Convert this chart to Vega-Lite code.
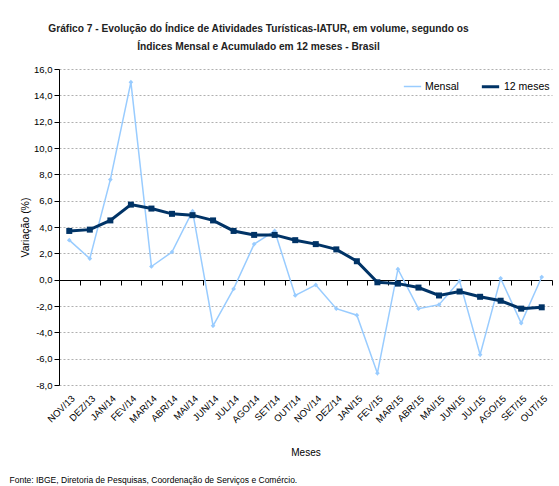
{
  "$schema": "https://vega.github.io/schema/vega-lite/v6.json",
  "padding": {"left": 9, "top": 23, "right": 4, "bottom": 4},
  "background": "white",
  "title": {
    "text": "Fonte: IBGE, Diretoria de Pesquisas, Coordenação de Serviços e Comércio.",
    "orient": "bottom",
    "anchor": "start",
    "frame": "bounds",
    "fontSize": 8.5,
    "fontWeight": "normal",
    "color": "#000000",
    "offset": 18,
    "dx": -11
  },
  "config": {
    "font": "Liberation Sans, Arial, sans-serif",
    "locale": {"number": {"decimal": ",", "thousands": ".", "grouping": [3], "currency": ["R$", ""], "minus": "-"}},
    "view": {"stroke": null},
    "concat": {"spacing": 0},
    "axis": {"labelColor": "#000000", "titleColor": "#000000", "titleFontWeight": "normal"}
  },
  "datasets": {
    "iatur": [
      {"mes": "NOV/13", "serie": "Mensal", "valor": 3.0},
      {"mes": "DEZ/13", "serie": "Mensal", "valor": 1.6},
      {"mes": "JAN/14", "serie": "Mensal", "valor": 7.6},
      {"mes": "FEV/14", "serie": "Mensal", "valor": 15.0},
      {"mes": "MAR/14", "serie": "Mensal", "valor": 1.0},
      {"mes": "ABR/14", "serie": "Mensal", "valor": 2.1},
      {"mes": "MAI/14", "serie": "Mensal", "valor": 5.2},
      {"mes": "JUN/14", "serie": "Mensal", "valor": -3.5},
      {"mes": "JUL/14", "serie": "Mensal", "valor": -0.7},
      {"mes": "AGO/14", "serie": "Mensal", "valor": 2.7},
      {"mes": "SET/14", "serie": "Mensal", "valor": 3.7},
      {"mes": "OUT/14", "serie": "Mensal", "valor": -1.2},
      {"mes": "NOV/14", "serie": "Mensal", "valor": -0.4},
      {"mes": "DEZ/14", "serie": "Mensal", "valor": -2.2},
      {"mes": "JAN/15", "serie": "Mensal", "valor": -2.7},
      {"mes": "FEV/15", "serie": "Mensal", "valor": -7.1},
      {"mes": "MAR/15", "serie": "Mensal", "valor": 0.8},
      {"mes": "ABR/15", "serie": "Mensal", "valor": -2.2},
      {"mes": "MAI/15", "serie": "Mensal", "valor": -1.9},
      {"mes": "JUN/15", "serie": "Mensal", "valor": -0.1},
      {"mes": "JUL/15", "serie": "Mensal", "valor": -5.7},
      {"mes": "AGO/15", "serie": "Mensal", "valor": 0.1},
      {"mes": "SET/15", "serie": "Mensal", "valor": -3.3},
      {"mes": "OUT/15", "serie": "Mensal", "valor": 0.2},
      {"mes": "NOV/13", "serie": "12 meses", "valor": 3.7},
      {"mes": "DEZ/13", "serie": "12 meses", "valor": 3.8},
      {"mes": "JAN/14", "serie": "12 meses", "valor": 4.5},
      {"mes": "FEV/14", "serie": "12 meses", "valor": 5.7},
      {"mes": "MAR/14", "serie": "12 meses", "valor": 5.4},
      {"mes": "ABR/14", "serie": "12 meses", "valor": 5.0},
      {"mes": "MAI/14", "serie": "12 meses", "valor": 4.9},
      {"mes": "JUN/14", "serie": "12 meses", "valor": 4.5},
      {"mes": "JUL/14", "serie": "12 meses", "valor": 3.7},
      {"mes": "AGO/14", "serie": "12 meses", "valor": 3.4},
      {"mes": "SET/14", "serie": "12 meses", "valor": 3.4},
      {"mes": "OUT/14", "serie": "12 meses", "valor": 3.0},
      {"mes": "NOV/14", "serie": "12 meses", "valor": 2.7},
      {"mes": "DEZ/14", "serie": "12 meses", "valor": 2.3},
      {"mes": "JAN/15", "serie": "12 meses", "valor": 1.4},
      {"mes": "FEV/15", "serie": "12 meses", "valor": -0.2},
      {"mes": "MAR/15", "serie": "12 meses", "valor": -0.3},
      {"mes": "ABR/15", "serie": "12 meses", "valor": -0.6},
      {"mes": "MAI/15", "serie": "12 meses", "valor": -1.2},
      {"mes": "JUN/15", "serie": "12 meses", "valor": -0.9},
      {"mes": "JUL/15", "serie": "12 meses", "valor": -1.3},
      {"mes": "AGO/15", "serie": "12 meses", "valor": -1.6},
      {"mes": "SET/15", "serie": "12 meses", "valor": -2.2},
      {"mes": "OUT/15", "serie": "12 meses", "valor": -2.1}
    ]
  },
  "vconcat": [
    {
      "title": {
        "text": ["Gráfico 7 - Evolução do Índice de Atividades Turísticas-IATUR, em volume, segundo os", "Índices Mensal e Acumulado em 12 meses - Brasil"],
        "anchor": "middle",
        "frame": "group",
        "fontSize": 10.2,
        "fontWeight": "bold",
        "color": "#222222",
        "lineHeight": 18,
        "offset": 12,
        "dx": -47
      },
      "width": 493,
      "height": 316,
      "data": {"name": "iatur"},
      "encoding": {
        "x": {
          "field": "mes",
          "type": "ordinal",
          "bandPosition": 0.5,
          "sort": ["NOV/13", "DEZ/13", "JAN/14", "FEV/14", "MAR/14", "ABR/14", "MAI/14", "JUN/14", "JUL/14", "AGO/14", "SET/14", "OUT/14", "NOV/14", "DEZ/14", "JAN/15", "FEV/15", "MAR/15", "ABR/15", "MAI/15", "JUN/15", "JUL/15", "AGO/15", "SET/15", "OUT/15"],
          "scale": {"type": "band", "paddingInner": 0, "paddingOuter": 0},
          "axis": {
            "title": "Meses",
            "offset": -105,
            "tickBand": "extent",
            "tickSize": 5,
            "tickColor": "#000000",
            "domainColor": "#000000",
            "grid": false,
            "labelAngle": -45,
            "labelFontSize": 9.5,
            "labelPadding": 108,
            "titleFontSize": 10,
            "titlePadding": 24
          }
        },
        "y": {
          "field": "valor",
          "type": "quantitative",
          "scale": {"domain": [-8, 16], "nice": false, "zero": false},
          "axis": {
            "title": "Variação (%)",
            "values": [-8, -6, -4, -2, 0, 2, 4, 6, 8, 10, 12, 14, 16],
            "format": ".1f",
            "grid": true,
            "gridDash": [2, 2],
            "gridColor": "#b0b0b0",
            "domainColor": "#000000",
            "tickColor": "#000000",
            "tickSize": 5,
            "labelFontSize": 9.5,
            "titleFontSize": 10.5,
            "titlePadding": 3
          }
        }
      },
      "layer": [
        {
          "mark": {"type": "line"},
          "encoding": {
            "color": {
              "field": "serie",
              "type": "nominal",
              "scale": {"domain": ["Mensal", "12 meses"], "range": ["#99ccff", "#003366"]},
              "legend": {
                "title": null,
                "orient": "none",
                "legendX": 344,
                "legendY": 7,
                "direction": "horizontal",
                "symbolType": "stroke",
                "symbolSize": 300,
                "labelFontSize": 10.5,
                "labelColor": "#000000",
                "labelOffset": 3,
                "columnPadding": 16
              }
            },
            "strokeWidth": {
              "field": "serie",
              "type": "nominal",
              "scale": {"domain": ["Mensal", "12 meses"], "range": [1.5, 3]},
              "legend": null
            }
          }
        },
        {
          "transform": [{"filter": "datum.serie === 'Mensal'"}],
          "mark": {"type": "point", "shape": "diamond", "filled": true, "color": "#99ccff", "size": 22, "opacity": 1}
        },
        {
          "transform": [{"filter": "datum.serie === '12 meses'"}],
          "mark": {"type": "point", "shape": "square", "filled": true, "color": "#003366", "size": 36, "opacity": 1}
        }
      ]
    }
  ]
}
